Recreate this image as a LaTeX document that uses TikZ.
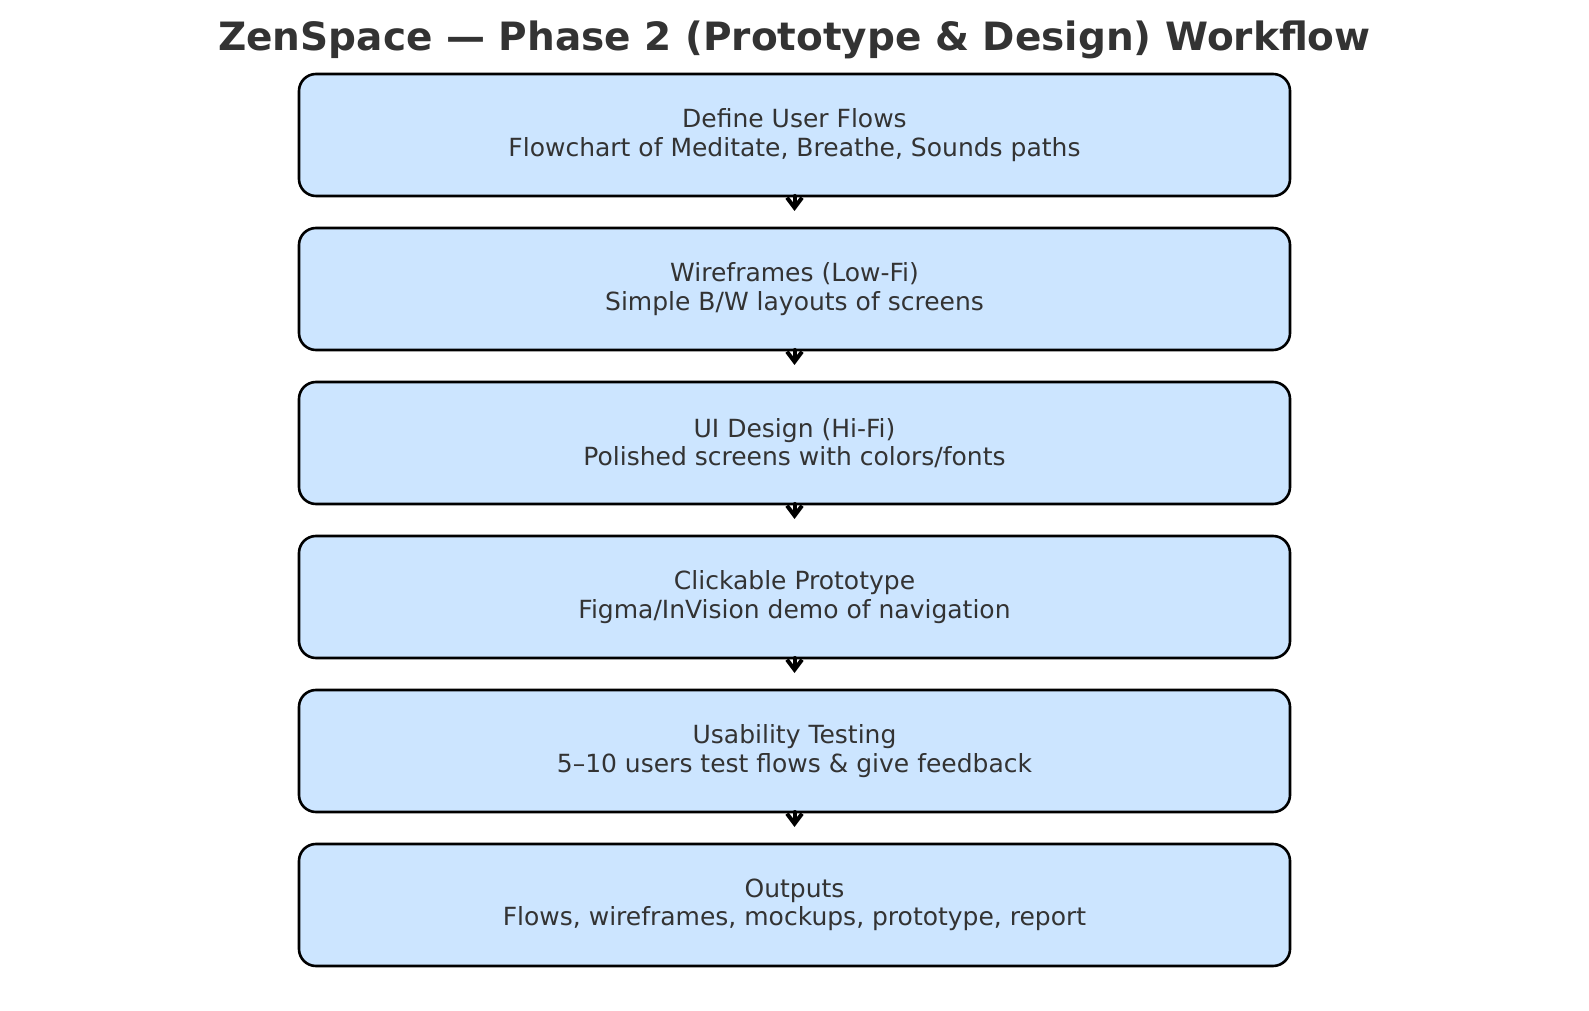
\documentclass[tikz,border=0pt]{standalone}
\usepackage{fontspec}
\setmainfont{DejaVu Sans}
\usetikzlibrary{positioning,arrows.meta}

\definecolor{boxblue}{HTML}{CCE5FF}
\definecolor{inkgray}{HTML}{333333}

\begin{document}
\begin{tikzpicture}[x=1pt,y=1pt,line cap=round,line join=round,
    stepbox/.style={draw=black,line width=2.6pt,fill=boxblue,rounded corners=17pt,
      minimum width=991pt,minimum height=122pt,outer sep=0pt,inner sep=0pt,
      execute at begin node={\rule{0pt}{28pt}},
      align=center,text=inkgray,font=\fontsize{25}{28.5}\selectfont},
    flowarrow/.style={line width=4pt,-{Straight Barb[length=10pt,width=15pt,line width=4pt]}},
    node distance=32pt]
  \useasboundingbox (0,0) rectangle (1589,1010);
  \node[anchor=base,text=inkgray,font=\fontsize{39}{46}\selectfont\bfseries] (title) at (794.5,959) {ZenSpace — Phase 2 (Prototype \& Design) Workflow};
  \node[stepbox] (flows) at (794.5,875) {Define User Flows\\Flowchart of Meditate, Breathe, Sounds paths};
  \node[stepbox,below=of flows] (wire) {Wireframes (Low-Fi)\\Simple B/W layouts of screens};
  \node[stepbox,below=of wire] (uides) {UI Design (Hi-Fi)\\Polished screens with colors/fonts};
  \node[stepbox,below=of uides] (proto) {Clickable Prototype\\Figma/InVision demo of navigation};
  \node[stepbox,below=of proto] (test) {Usability Testing\\5–10 users test flows \& give feedback};
  \node[stepbox,below=of test] (outs) {Outputs\\Flows, wireframes, mockups, prototype, report};
  \foreach \a in {flows,wire,uides,proto,test} {
    \coordinate[below=15pt of \a] (\a-tip);
    \draw[flowarrow] (\a.south) -- (\a-tip);
  }
\end{tikzpicture}
\end{document}
